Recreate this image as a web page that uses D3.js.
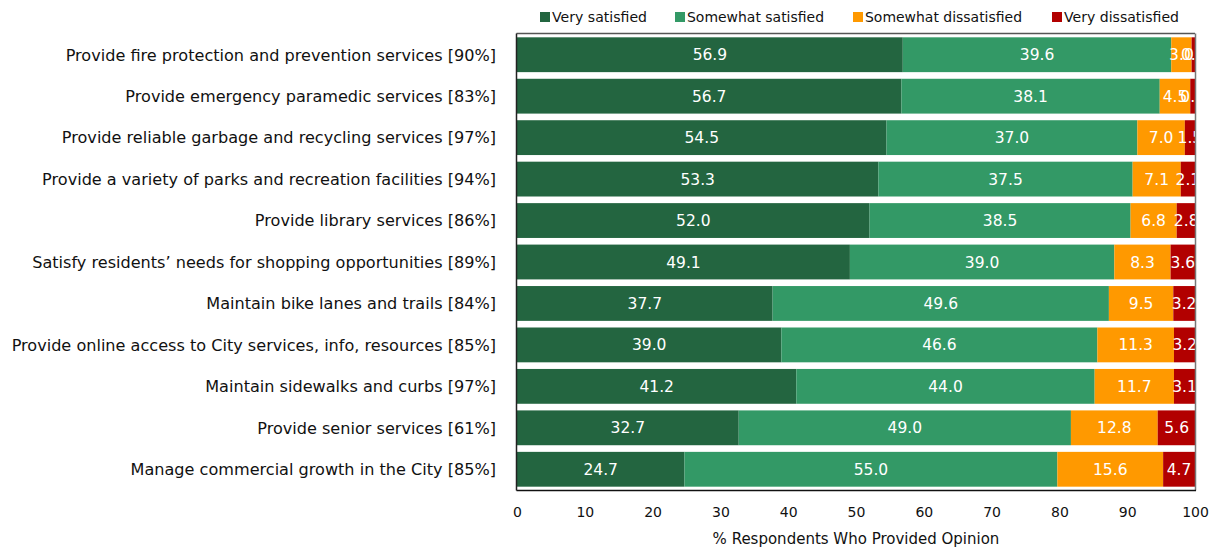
<!DOCTYPE html>
<html><head><meta charset="utf-8">
<script src="https://cdn.jsdelivr.net/npm/d3@7"></script>
<style>body{margin:0;background:#fff;}svg{display:block;}</style>
</head><body><svg id="c" width="1216" height="549"></svg>
<script>
const categories = [
 "Provide fire protection and prevention services [90%]",
 "Provide emergency paramedic services [83%]",
 "Provide reliable garbage and recycling services [97%]",
 "Provide a variety of parks and recreation facilities [94%]",
 "Provide library services [86%]",
 "Satisfy residents\u2019 needs for shopping opportunities [89%]",
 "Maintain bike lanes and trails [84%]",
 "Provide online access to City services, info, resources [85%]",
 "Maintain sidewalks and curbs [97%]",
 "Provide senior services [61%]",
 "Manage commercial growth in the City [85%]"
];
const seriesNames = ["Very satisfied","Somewhat satisfied","Somewhat dissatisfied","Very dissatisfied"];
const verySatisfied = [56.9,56.7,54.5,53.3,52.0,49.1,37.7,39.0,41.2,32.7,24.7];
const somewhatSatisfied = [39.6,38.1,37.0,37.5,38.5,39.0,49.6,46.6,44.0,49.0,55.0];
const somewhatDissatisfied = [3.0,4.5,7.0,7.1,6.8,8.3,9.5,11.3,11.7,12.8,15.6];
const veryDissatisfied = [0.5,0.7,1.5,2.1,2.8,3.6,3.2,3.2,3.1,5.6,4.7];
const xTicks = [0,10,20,30,40,50,60,70,80,90,100];
const colors = ["#236540","#339966","#FF9900","#B20000"];
const seriesValues = [verySatisfied, somewhatSatisfied, somewhatDissatisfied, veryDissatisfied];

const FONT = "DejaVu Sans, Verdana, sans-serif";
const svg = d3.select("#c");
const L = 517, R = 1195, T = 34, B = 490;
const x = d3.scaleLinear().domain([0,100]).range([L,R]);
const y = d3.scaleBand().domain(categories).range([T,B]).paddingInner(0.16).paddingOuter(0.08);

const rows = categories.map((c,i)=>{
  let acc = 0;
  return seriesValues.map((s,k)=>{ const d={cat:c,k,v:s[i],x0:acc,x1:acc+s[i]}; acc+=s[i]; return d; });
});

svg.append("defs").append("clipPath").attr("id","clip")
  .append("rect").attr("x",L).attr("y",T).attr("width",R-L).attr("height",B-T);

const g = svg.append("g").attr("clip-path","url(#clip)");
rows.forEach(r=>{
  g.selectAll(null).data(r).enter().append("rect")
    .attr("x",d=>x(d.x0)).attr("width",d=>x(d.x1)-x(d.x0))
    .attr("y",d=>y(d.cat)).attr("height",y.bandwidth())
    .attr("fill",d=>colors[d.k]);
});
rows.forEach(r=>{
  g.selectAll(null).data(r).enter().append("text")
    .attr("x",d=>(x(d.x0)+x(d.x1))/2).attr("y",d=>y(d.cat)+y.bandwidth()/2)
    .attr("dy","0.36em").attr("text-anchor","middle")
    .attr("font-family",FONT).attr("font-size",15.5).attr("fill","#fff")
    .text(d=>d.v.toFixed(1));
});

// frame
svg.append("line").attr("x1",L-0.5).attr("x2",R).attr("y1",T-0.5).attr("y2",T-0.5).attr("stroke","#555").attr("stroke-width",1.5);
svg.append("line").attr("x1",L-0.5).attr("x2",L-0.5).attr("y1",T-0.5).attr("y2",B+0.5).attr("stroke","#222").attr("stroke-width",1.5);
svg.append("line").attr("x1",R+0.5).attr("x2",R+0.5).attr("y1",T-0.5).attr("y2",B+0.5).attr("stroke","#777").attr("stroke-width",1.5);
svg.append("line").attr("x1",L-0.5).attr("x2",R+1).attr("y1",B+0.5).attr("y2",B+0.5).attr("stroke","#111").attr("stroke-width",1.5);

// category labels
svg.append("g").selectAll("text").data(categories).enter().append("text")
  .attr("x",496).attr("y",d=>y(d)+y.bandwidth()/2).attr("dy","0.36em")
  .attr("text-anchor","end").attr("font-family",FONT).attr("font-size",16.1).attr("fill","#111")
  .text(d=>d);

// x axis
const ax = svg.append("g").attr("transform",`translate(0,${B})`)
  .call(d3.axisBottom(x).tickValues(xTicks).tickSize(0).tickPadding(17));
ax.select(".domain").remove();
ax.selectAll("text").attr("font-family",FONT).attr("font-size",14).attr("fill","#111");
svg.append("text").attr("x",(L+R)/2).attr("y",544).attr("text-anchor","middle")
  .attr("font-family",FONT).attr("font-size",15).attr("fill","#111").text("% Respondents Who Provided Opinion");

// legend
const legX = [540, 675, 853, 1052];
const legW = [95, 137, 157, 115];
const lg = svg.append("g");
seriesNames.forEach((n,i)=>{
  lg.append("rect").attr("x",legX[i]).attr("y",12).attr("width",10).attr("height",10).attr("fill",colors[i]);
  lg.append("text").attr("x",legX[i]+12).attr("y",17).attr("dy","0.36em")
    .attr("font-family",FONT).attr("font-size",14).attr("fill","#111")
    .attr("textLength",legW[i]).attr("lengthAdjust","spacingAndGlyphs").text(n);
});
</script></body></html>
